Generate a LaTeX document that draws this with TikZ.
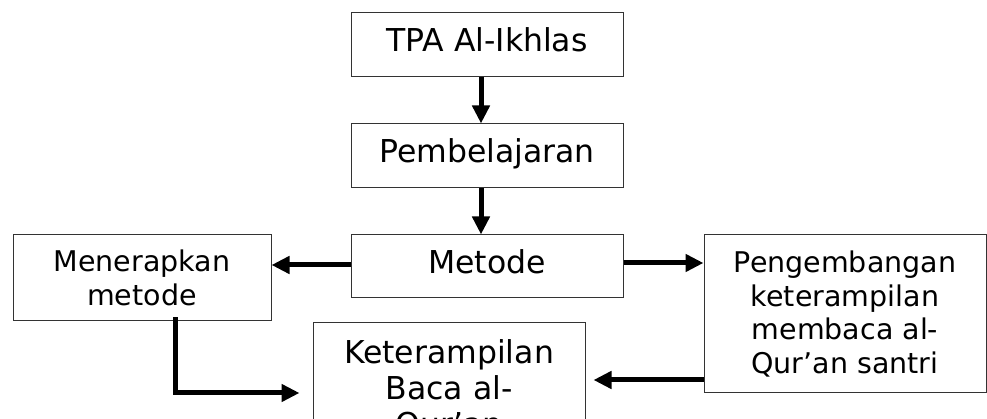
\documentclass[tikz,border=0pt]{standalone}
\usepackage{fontspec}
\setmainfont{DejaVu Sans}
\usetikzlibrary{arrows.meta}
\tikzset{
  box/.style={draw=black!80, line width=1pt, align=center, inner sep=0pt},
  bigtxt/.style={font=\fontsize{31.5}{34}\selectfont},
  ketfont/.style={font=\fontsize{31.5}{36}\selectfont},
  oneline/.style={text height=24pt, text depth=10pt},
  smalltxt/.style={font=\fontsize{28.5}{33.5}\selectfont},
  arr/.style={line width=5pt, -{Triangle[length=18pt,width=17pt]}}
}
\begin{document}
\begin{tikzpicture}[x=1pt,y=1pt]
\useasboundingbox (0,0) rectangle (987,419);
\clip (0,0) rectangle (987,419);
\fill[white] (0,0) rectangle (987,419);
\node[box,bigtxt,oneline,minimum width=272,minimum height=64] (tpa) at (487,374) {TPA Al-Ikhlas};
\node[box,bigtxt,oneline,minimum width=272,minimum height=64] (pem) at (487,263) {Pembelajaran};
\node[box,bigtxt,oneline,minimum width=272,minimum height=63] (met) at (487,152.5) {Metode};
\node[box,smalltxt,minimum width=258,minimum height=86] (men) at (142,141) {Menerapkan\\metode};
\node[box,smalltxt,minimum width=282,minimum height=158] (peng) at (845,105) {Pengembangan\\keterampilan\\membaca al-\\Qur’an santri};
\node[box,ketfont,minimum width=272,anchor=north,inner ysep=17pt] (ket) at (449,97) {Keterampilan\\Baca al-\\Qur’an};
\draw[arr] ([xshift=-6]tpa.south) -- ([xshift=-6]pem.north);
\draw[arr] ([xshift=-6]pem.south) -- ([xshift=-6]met.north);
\draw[arr] ([yshift=1.5]met.west) -- ([yshift=1.5]met.west -| men.east);
\draw[arr] ([yshift=3.5]met.east) -- ([yshift=3.5]met.east -| peng.west);
\coordinate (pk) at (peng.west |- 0,39);
\draw[arr, shorten >=8pt] (pk) -- (pk -| ket.east);
\coordinate (ms) at ([yshift=4]men.south -| 175,0);
\coordinate (mc) at (175,26);
\draw[arr, shorten >=13pt] (ms) -- (mc) -- (mc -| ket.west);
\end{tikzpicture}
\end{document}
